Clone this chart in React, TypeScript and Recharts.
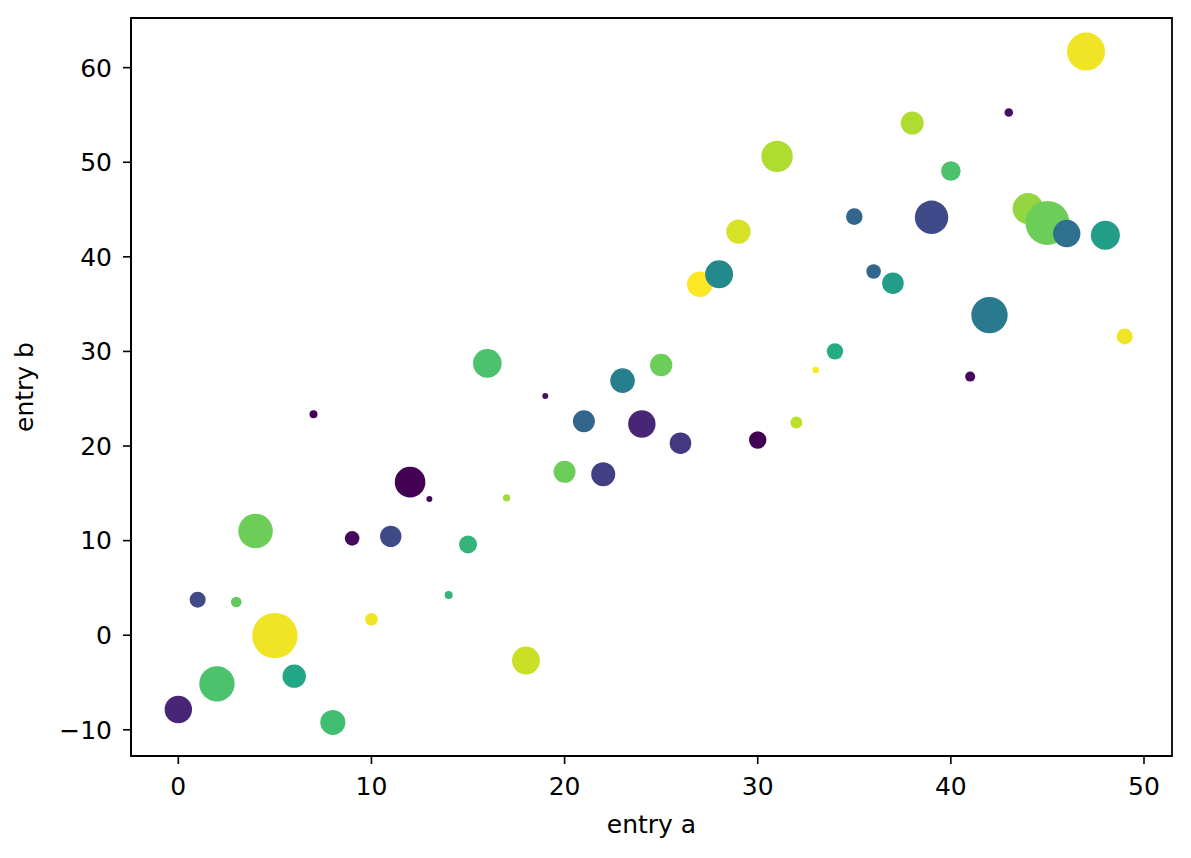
import { Cell, Label, ReferenceArea, Scatter, ScatterChart, XAxis, YAxis, ZAxis } from 'recharts'

// values
const entryA = [
  0, 1, 2, 3, 4, 5, 6, 7, 8, 9, 10, 11, 12, 13, 14, 15, 16, 17, 18, 19, 20, 21, 22, 23, 24,
  25, 26, 27, 28, 29, 30, 31, 32, 33, 34, 35, 36, 37, 38, 39, 40, 41, 42, 43, 44, 45, 46, 47, 48, 49,
]

const entryB = [
  -7.85, 3.76, -5.14, 3.51, 11.01, -0.04, -4.33, 23.36, -9.22, 10.24,
  1.69, 10.45, 16.18, 14.39, 4.25, 9.6, 28.74, 14.52, -2.68, 25.29,
  17.27, 22.62, 17.02, 26.91, 22.33, 28.56, 20.3, 37.11, 38.15, 42.67,
  20.64, 50.62, 22.48, 28.03, 30.01, 44.25, 38.45, 37.21, 54.14, 44.18,
  49.08, 27.34, 33.84, 55.26, 45.1, 43.59, 42.46, 61.7, 42.28, 31.59,
]

// colour value (mapped through viridis)
const colorValue = [
  5, 11, 35, 37, 38, 48, 29, 0, 34, 1,
  48, 11, 0, 1, 32, 32, 35, 42, 45, 2,
  38, 16, 9, 21, 5, 38, 8, 49, 23, 46,
  0, 43, 44, 49, 30, 16, 16, 27, 43, 11,
  35, 1, 20, 2, 41, 38, 18, 48, 27, 48,
]

// marker area
const markerArea = [
  590, 201, 984, 88, 940, 1619, 430, 50, 491, 167,
  125, 360, 735, 28, 50, 254, 642, 43, 616, 28,
  380, 380, 452, 475, 590, 394, 366, 515, 616, 468,
  238, 774, 113, 34, 211, 216, 167, 366, 415, 876,
  302, 79, 1041, 58, 755, 1521, 590, 1134, 661, 201,
]

const xTicks = [0, 10, 20, 30, 40, 50]
const yTicks = [-10, 0, 10, 20, 30, 40, 50, 60]

const VIRIDIS = [
  '#440154', '#482475', '#414487', '#355f8d', '#2a788e', '#21918c',
  '#22a884', '#44bf70', '#7ad151', '#bddf26', '#fde725',
]

function hexToRgb(h: string) {
  return [1, 3, 5].map((i) => parseInt(h.slice(i, i + 2), 16))
}

function viridis(t: number) {
  const p = Math.min(Math.max(t, 0), 1) * (VIRIDIS.length - 1)
  const i = Math.min(Math.floor(p), VIRIDIS.length - 2)
  const f = p - i
  const a = hexToRgb(VIRIDIS[i])
  const b = hexToRgb(VIRIDIS[i + 1])
  const rgb = a.map((v, k) => Math.round(v + (b[k] - v) * f))
  return `rgb(${rgb.join(',')})`
}

const cMin = Math.min(...colorValue)
const cMax = Math.max(...colorValue)

const data = entryA.map((a, i) => ({ a, b: entryB[i], s: markerArea[i], c: colorValue[i] }))

const FONT = 'DejaVu Sans'
const X_DOMAIN: [number, number] = [-2.45, 51.45]
const Y_DOMAIN: [number, number] = [-12.77, 65.25]

export default function App() {
  return (
    <div style={{ position: 'absolute', left: 0, top: 0, background: '#fff' }}>
      <ScatterChart width={1191} height={858} margin={{ top: 18, right: 19, bottom: 0, left: 0 }}>
        <XAxis
          type="number"
          dataKey="a"
          domain={X_DOMAIN}
          ticks={xTicks}
          allowDataOverflow
          height={102}
          tickSize={8}
          tickMargin={13}
          axisLine={{ stroke: '#000', strokeWidth: 1.8 }}
          tickLine={{ stroke: '#000', strokeWidth: 1.6 }}
          tick={{ fill: '#000', fontSize: 25, fontFamily: FONT }}
          label={
            <Label
              content={({ viewBox }: any) => (
                <text
                  x={viewBox.x + viewBox.width / 2}
                  y={viewBox.y + 77}
                  textAnchor="middle"
                  fontSize={25}
                  fontFamily={FONT}
                  fill="#000"
                >
                  entry a
                </text>
              )}
            />
          }
        />
        <YAxis
          type="number"
          dataKey="b"
          domain={Y_DOMAIN}
          ticks={yTicks}
          allowDataOverflow
          width={131}
          tickSize={8}
          tickMargin={11}
          axisLine={{ stroke: '#000', strokeWidth: 1.8 }}
          tickLine={{ stroke: '#000', strokeWidth: 1.6 }}
          tick={{ fill: '#000', fontSize: 25, fontFamily: FONT }}
          tickFormatter={(v: number) => (v < 0 ? `\u2212${Math.abs(v)}` : `${v}`)}
          label={
            <Label
              content={({ viewBox }: any) => {
                const cx = 33
                const cy = viewBox.y + viewBox.height / 2
                return (
                  <text
                    x={cx}
                    y={cy}
                    transform={`rotate(-90 ${cx} ${cy})`}
                    textAnchor="middle"
                    fontSize={25}
                    fontFamily={FONT}
                    fill="#000"
                  >
                    entry b
                  </text>
                )
              }}
            />
          }
        />
        <ZAxis type="number" dataKey="s" domain={[0, 2000]} range={[0, 2000]} />
        <Scatter data={data} isAnimationActive={false}>
          {data.map((d, i) => (
            <Cell key={i} fill={viridis((d.c - cMin) / (cMax - cMin))} />
          ))}
        </Scatter>
        <ReferenceArea
          x1={X_DOMAIN[0]}
          x2={X_DOMAIN[1]}
          y1={Y_DOMAIN[0]}
          y2={Y_DOMAIN[1]}
          fill="none"
          stroke="#000"
          strokeWidth={1.8}
          ifOverflow="visible"
        />
      </ScatterChart>
    </div>
  )
}
